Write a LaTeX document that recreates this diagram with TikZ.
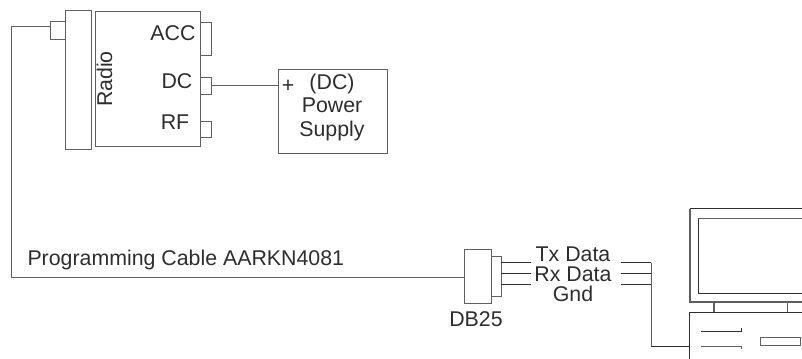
\documentclass[tikz,border=0pt]{standalone}
\usepackage{fontspec}
\setmainfont{Liberation Sans}
\usetikzlibrary{calc}
\definecolor{ink}{RGB}{45,45,45}
\definecolor{wire}{RGB}{95,95,95}
\tikzset{
  box/.style={draw=wire,line width=0.75pt,inner sep=0pt,outer sep=0pt},
  lab/.style={text=ink,font=\fontsize{16pt}{17pt}\selectfont,inner sep=0pt,outer sep=0pt,anchor=base},
  wirel/.style={draw=wire,line width=0.75pt},
  darkl/.style={draw=ink,line width=0.75pt},
}
\newcommand{\pxbox}[5]{\node[box,minimum width=#4*0.75pt,minimum height=#5*0.75pt,anchor=north west] (#1) at (#2,#3) {};}
\begin{document}
\begin{tikzpicture}[x=0.75pt,y=-0.75pt]
\useasboundingbox (0,0) rectangle (802,358);
\clip (0,0) rectangle (802,358);
% radio
\pxbox{panel}{65}{10}{26}{139}
\pxbox{body}{95}{11}{105}{135}
\pxbox{clip}{50}{21}{15}{18}
\pxbox{acc}{200}{22}{11}{33}
\pxbox{dc}{200}{77}{11}{17}
\pxbox{rf}{200}{121}{11}{16}
\node[lab] (acclab) at (173,40) {ACC};
\node[lab] (dclab) at (177,88.5) {DC};
\node[lab] (rflab) at (175,129) {RF};
\node[lab,rotate=90] (radiolab) at (112,79) {Radio};
% power supply
\pxbox{psu}{278}{69}{109}{84}
\node[lab] (pluslab) at (288,92) {+};
\node[lab] (pow1) at (332,89.3) {(DC)};
\node[lab] (pow2) at (332,112.7) {Power};
\node[lab] (pow3) at (332,136) {Supply};
\draw[wirel] (dc.east) -- (dc.east -| psu.west);
% cable
\pxbox{db}{464}{249}{27}{54}
\pxbox{dbs}{491}{256}{10}{40}
\coordinate (cab1) at (11,26);
\coordinate (cab2) at (11,277);
\draw[wirel] (clip.west |- cab1) -- (cab1) -- (cab2) -- (cab2 -| db.west);
\node[lab,anchor=base west] (cablelab) at (27.5,265) {Programming Cable AARKN4081};
\node[lab] (dblab) at (476,326.7) {DB25};
\node[lab] (tx) at (573,261.7) {Tx Data};
\node[lab] (rx) at (573,281.7) {Rx Data};
\node[lab] (gnd) at (573,301.7) {Gnd};
% signal lines
\coordinate (t1) at (531,262.5); \coordinate (t2) at (621,262.5); \coordinate (tv) at (651,262.5);
\coordinate (r1) at (531,273.5); \coordinate (r2) at (621,273.5); \coordinate (rv) at (651,273.5);
\coordinate (g1) at (531,284.5); \coordinate (g2) at (621,284.5); \coordinate (gv) at (651,284.5);
\coordinate (bend) at (651,346);
\draw[darkl] (dbs.east |- t1) -- (t1);
\draw[darkl] (dbs.east |- r1) -- (r1);
\draw[darkl] (dbs.east |- g1) -- (g1);
\draw[darkl] (t2) -- (tv);
\draw[darkl] (r2) -- (rv);
\draw[darkl] (g2) -- (gv);
\draw[wirel] (tv) -- (bend);
% computer
\draw[darkl] (690,208.5) -- (810,208.5);
\draw[wirel,line width=1pt] (690,208.5) -- (690,302) -- (810,302);
\draw[wirel] (698,218.7) -- (810,218.7);
\draw[darkl] (698,218.7) -- (698,293) -- (810,293);
\draw[wirel,line width=1pt] (714,302) -- (714,312.5);
\draw[wirel,line width=1pt] (787.5,302) -- (787.5,312.5);
\draw[darkl] (689.5,365) -- (689.5,312.5) -- (810,312.5);
\draw[darkl] (bend) -- (689.5,346);
\draw[darkl] (701,331) -- (741.5,331) -- (741.5,328);
\draw[wirel] (701,346) -- (741.5,346) -- (741.5,349);
\node[box,minimum width=39.5*0.75pt,minimum height=7.5*0.75pt,anchor=north west] (drive) at (760.5,337.5) {};
\end{tikzpicture}
\end{document}
